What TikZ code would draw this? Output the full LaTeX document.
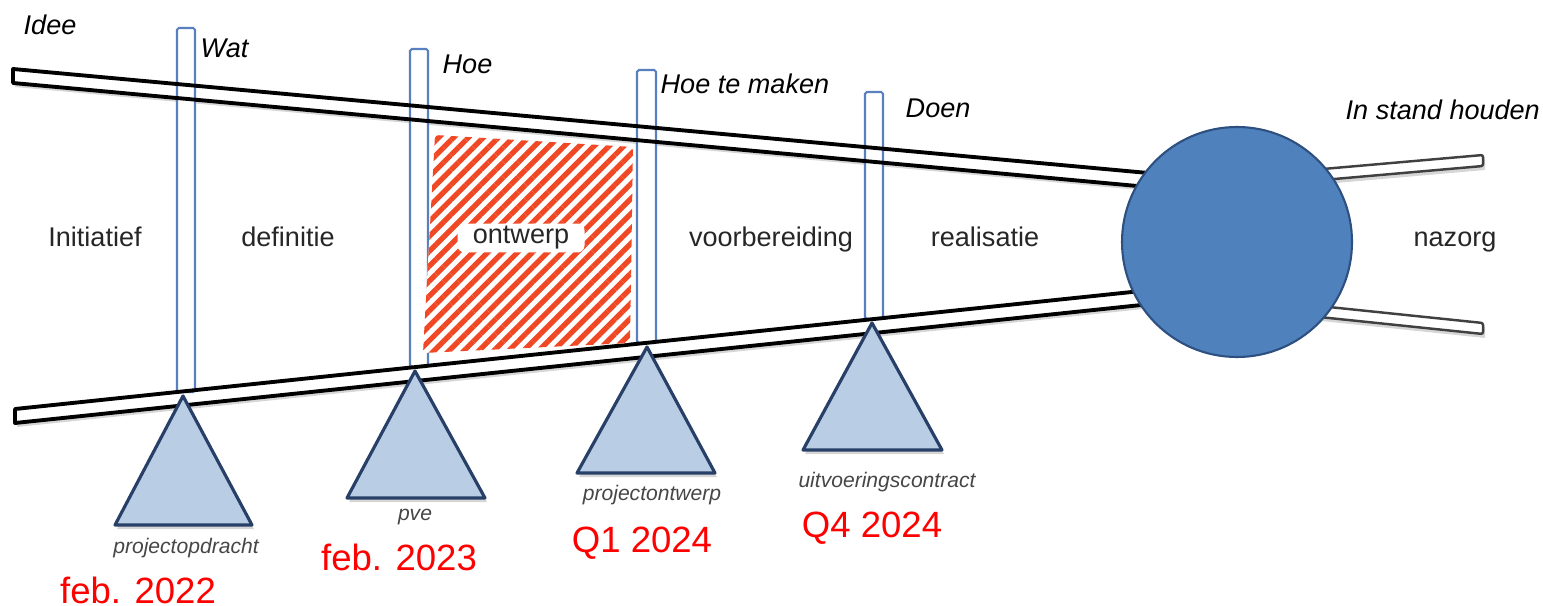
\documentclass[tikz,border=0pt]{standalone}
\usepackage{fontspec}
\setmainfont{Liberation Sans}
\usepackage{xcolor}
\usepackage{tikz}
\usetikzlibrary{patterns.meta}
\pgfdeclarelayer{shadowlayer}
\pgfdeclarelayer{beamlayer}
\pgfsetlayers{shadowlayer,beamlayer,main}

\definecolor{pillarblue}{RGB}{88,128,190}
\definecolor{wedgefill}{RGB}{185,205,229}
\definecolor{wedgeedge}{RGB}{40,64,104}
\definecolor{ballfill}{RGB}{79,129,189}
\definecolor{balledge}{RGB}{46,80,128}
\definecolor{hatchred}{RGB}{240,72,36}
\definecolor{doctext}{RGB}{70,70,70}

\tikzset{
  beam/.style={draw=black, fill=white, line width=1.1pt, line join=round},
  thinbeam/.style={draw=black!75, fill=white, line width=0.7pt, rounded corners=0.6pt},
  beamshadow/.style={fill=black!16},
  pillar/.style={draw=pillarblue, fill=white, line width=0.6pt, rounded corners=0.5pt},
  wedge/.style={draw=wedgeedge, fill=wedgefill, line width=0.9pt, line join=round},
  phaselabel/.style={anchor=base, inner sep=0pt, text=black!85, font=\fontsize{7.7pt}{9pt}\selectfont},
  stagelabel/.style={anchor=base west, inner sep=0pt, font=\fontsize{7.7pt}{9pt}\selectfont\itshape},
  doclabel/.style={anchor=base, inner sep=0pt, text=doctext, font=\fontsize{6pt}{7pt}\selectfont\itshape},
  datelabel/.style={anchor=base, inner sep=0pt, text=red, font=\fontsize{10.4pt}{12pt}\selectfont},
}

\begin{document}
\begin{tikzpicture}[x=0.1mm, y=-0.1mm]
  \useasboundingbox (0, 0) rectangle (1543, 606);

  % schaduwen
  \begin{pgfonlayer}{shadowlayer}
    \begin{scope}[shift={(2, 4)}]
      \fill [beamshadow] (13, 69) -- (1170, 175) -- (1170, 189) -- (13, 83) -- cycle;
      \fill [beamshadow] (15, 409) -- (1170, 288) -- (1170, 302) -- (15, 423) -- cycle;
      \fill [beamshadow] (1300, 171) -- (1483, 155) -- (1483, 166) -- (1300, 182) -- cycle;
      \fill [beamshadow] (1300, 304) -- (1483, 323) -- (1483, 334) -- (1300, 315) -- cycle;
      \fill [beamshadow] (183, 396) -- (252, 525) -- (115, 525) -- cycle;
      \fill [beamshadow] (415, 371) -- (485, 498) -- (347, 498) -- cycle;
      \fill [beamshadow] (647, 347) -- (715, 473) -- (577, 473) -- cycle;
      \fill [beamshadow] (872, 323) -- (942, 450) -- (803, 450) -- cycle;
    \end{scope}
  \end{pgfonlayer}

  % balken en palen
  \begin{pgfonlayer}{beamlayer}
    \fill [white] (13, 69) -- (1170, 175) -- (1170, 189) -- (13, 83) -- cycle;
    \fill [white] (15, 409) -- (1170, 288) -- (1170, 302) -- (15, 423) -- cycle;
    \draw [pillar] (177, 28) rectangle (195, 392);
    \draw [pillar] (410, 49) rectangle (428, 367);
    \draw [pillar] (637, 70) rectangle (656, 343);
    \draw [pillar] (865, 92) rectangle (883, 319);
    \draw [beam, fill=none] (13, 69) -- (1170, 175) -- (1170, 189) -- (13, 83) -- cycle;
    \draw [beam, fill=none] (15, 409) -- (1170, 288) -- (1170, 302) -- (15, 423) -- cycle;
  \end{pgfonlayer}

  % mijlpalen
  \draw [wedge] (183, 396) -- (252, 525) -- (115, 525) -- cycle;
  \draw [wedge] (415, 371) -- (485, 498) -- (347, 498) -- cycle;
  \draw [wedge] (647, 347) -- (715, 473) -- (577, 473) -- cycle;
  \draw [wedge] (872, 323) -- (942, 450) -- (803, 450) -- cycle;

  % huidige fase
  \fill [preaction={fill=white}, pattern={Lines[angle=45, distance=3pt, line width=1.5pt]},
         pattern color=hatchred, rounded corners=1pt]
    (435, 135) -- (633, 147) -- (630, 343) -- (423, 353) -- cycle;
  \node [phaselabel, anchor=center, fill=white, rounded corners=2pt,
         minimum width=1.27cm, minimum height=0.29cm] (ontwerp) at (521, 238) {ontwerp};

  % nazorg
  \draw [thinbeam] (1300, 171) -- (1483, 155) -- (1483, 166) -- (1300, 182) -- cycle;
  \draw [thinbeam] (1300, 304) -- (1483, 323) -- (1483, 334) -- (1300, 315) -- cycle;
  \node [circle, fill=ballfill, draw=balledge, line width=0.6pt, minimum size=2.3cm] (beheer) at (1237, 242) {};

  % teksten
  \node [stagelabel] (idee) at (23, 35) {Idee};
  \node [stagelabel] (wat) at (200, 58) {Wat};
  \node [stagelabel] (hoe) at (442, 74) {Hoe};
  \node [stagelabel] (hoetemaken) at (660, 94) {Hoe te maken};
  \node [stagelabel] (doen) at (905, 118) {Doen};
  \node [stagelabel] (instandhouden) at (1345, 120) {In stand houden};

  \node [phaselabel] (initiatief) at (95, 247) {Initiatief};
  \node [phaselabel] (definitie) at (288, 247) {definitie};
  \node [phaselabel] (voorbereiding) at (771, 247) {voorbereiding};
  \node [phaselabel] (realisatie) at (985, 247) {realisatie};
  \node [phaselabel] (nazorg) at (1455, 247) {nazorg};

  \node [doclabel] (projectopdracht) at (186, 553) {projectopdracht};
  \node [doclabel] (pve) at (415, 520) {pve};
  \node [doclabel] (projectontwerp) at (652, 500) {projectontwerp};
  \node [doclabel] (uitvoeringscontract) at (887, 487) {uitvoeringscontract};

  \node [datelabel] (datum1) at (138, 603) {feb. 2022};
  \node [datelabel] (datum2) at (399, 570) {feb. 2023};
  \node [datelabel] (datum3) at (642, 552) {Q1 2024};
  \node [datelabel] (datum4) at (872, 537) {Q4 2024};
\end{tikzpicture}
\end{document}
